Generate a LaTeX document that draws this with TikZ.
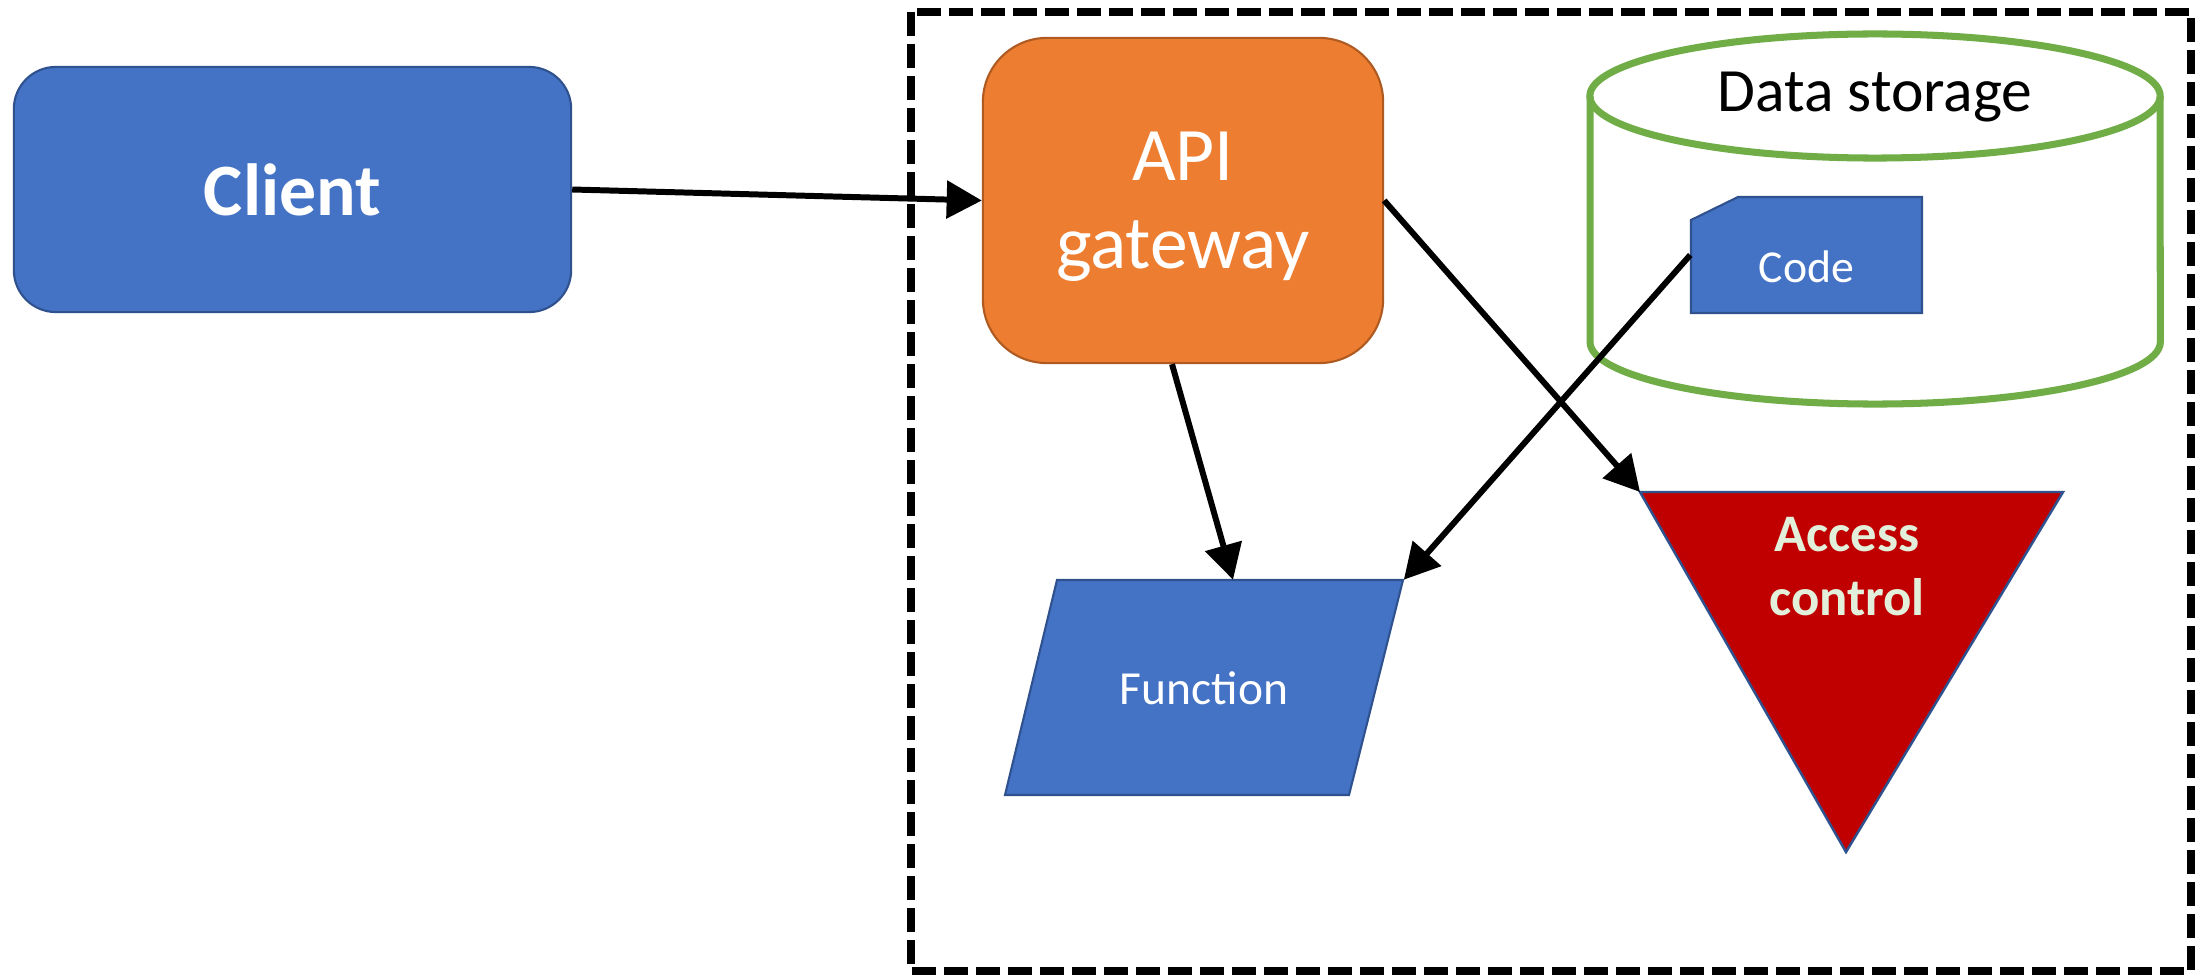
\documentclass[tikz,border=0pt]{standalone}
\usepackage{fontspec}
\setmainfont{Carlito}
\usetikzlibrary{arrows.meta,calc}
\definecolor{boxblue}{HTML}{4472C4}
\definecolor{edgeblue}{HTML}{2F528F}
\definecolor{apiorange}{HTML}{ED7D31}
\definecolor{apiedge}{HTML}{AE5A21}
\definecolor{storegreen}{HTML}{70AD47}
\definecolor{accred}{HTML}{C00000}
\definecolor{acctext}{HTML}{E2EFDA}

\begin{document}
\begin{tikzpicture}[x=0.01cm,y=-0.01cm,
  conn/.style={line width=1.7pt, -{Triangle[length=10pt,width=10.5pt]}},
  blueedge/.style={draw=edgeblue, line width=0.6pt},
  bluebox/.style={blueedge, fill=boxblue},
  storeline/.style={draw=storegreen, line width=2pt},
  frameline/.style={line width=2.2pt, dash pattern=on 6.8pt off 2.3pt},
  whitetext/.style={text=white}]
\useasboundingbox (0,0) rectangle (2206,976);
\fill[white] (0,0) rectangle (2206,976);

% dashed boundary of the hosted side
\draw[frameline] (911,12) rectangle (2191,971);

% client and gateway
\node[bluebox, whitetext, rounded corners=0.42cm, minimum width=5.57cm, minimum height=2.45cm,
      font=\bfseries\fontsize{21}{25}\selectfont] (client) at (292.5,189.5) {Client};
\node[draw=apiedge, line width=0.6pt, fill=apiorange, whitetext, rounded corners=0.64cm,
      minimum width=4cm, minimum height=3.25cm, align=center, text depth=0pt,
      font=\fontsize{21.5}{25}\selectfont] (api) at (1183,200.5) {API\\gateway};

% data storage cylinder
\fill[white] (1590,96) -- (1590,342)
  arc[start angle=180, end angle=360, x radius=2.85cm, y radius=0.62cm]
  -- (2160,96)
  arc[start angle=0, end angle=180, x radius=2.85cm, y radius=0.62cm] -- cycle;
\draw[storeline] (1590,96) -- (1590,342)
  arc[start angle=180, end angle=360, x radius=2.85cm, y radius=0.62cm]
  -- (2160,96);
\draw[storeline] (1875,96) ellipse [x radius=2.85cm, y radius=0.62cm];
\node[anchor=base, font=\fontsize{17.5}{21}\selectfont] (store) at (1875,112) {Data storage};

% code object with a snipped corner
\filldraw[bluebox] (1738,197) -- (1922,197) -- (1922,313) -- (1691,313) -- (1691,220) -- cycle;
\node[whitetext, minimum width=2.31cm, minimum height=1.16cm, text height=15.4pt, text depth=0pt,
      font=\fontsize{13}{16}\selectfont] (code) at (1806.5,255) {Code};

% function parallelogram
\filldraw[bluebox] (1057,580) -- (1403,580) -- (1349,795) -- (1005,795) -- cycle;
\node[whitetext, minimum width=3.98cm, minimum height=2.15cm,
      font=\fontsize{13.5}{16}\selectfont] (func) at (1204,688) {Function};

% access control triangle
\coordinate (acc-nw) at (1640,492);
\coordinate (acc-ne) at (2063,492);
\coordinate (acc-s) at (1846,852);
\filldraw[fill=accred, draw=edgeblue, line width=0.7pt] (acc-nw) -- (acc-ne) -- (acc-s) -- cycle;
\node[text=acctext, align=center, font=\bfseries\fontsize{15}{18.2}\selectfont] (acc) at (1847,567) {Access\\control};

% connectors
\draw[conn] (client.east) -- (api.west);
\draw[conn] ($(api.south)+(-11,0)$) -- ($(func.north)+(29,0)$);
\draw[conn] (api.east) -- (acc-nw);
\draw[conn] (code.west) -- (func.north east);
\end{tikzpicture}
\end{document}
